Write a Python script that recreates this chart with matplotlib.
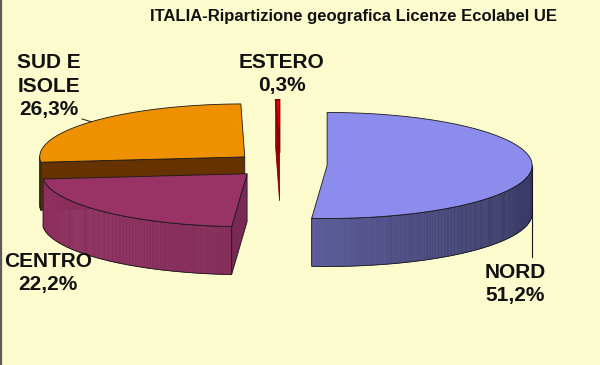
import numpy as np
import matplotlib
matplotlib.use("Agg")
import matplotlib.pyplot as plt
from matplotlib.patches import Polygon
from matplotlib.colors import to_rgb

# ---------------- data ----------------
categories = ["NORD", "CENTRO", "SUD E\nISOLE", "ESTERO"]
values = [51.2, 22.2, 26.3, 0.3]
title = "ITALIA-Ripartizione geografica Licenze Ecolabel UE"

# ---------------- style ----------------
bg = "#FBFBCD"
top_colors = ["#8C8CEC", "#993366", "#EE9000", "#FF0000"]
side_light = ["#7676C4", "#8E2F60", "#B06A00", "#C00000"]
side_dark = ["#3A3A68", "#762650", "#7A4A00", "#700000"]
cut_colors = ["#5A5AA0", "#7A2854", "#663300", "#9A0000"]
edge_colors = ["#1a1a1a", "#1a1a1a", "#1a1a1a", "#8A0000"]

plt.rcParams["font.family"] = ["Liberation Sans", "DejaVu Sans"]

W, H = 600, 365
fig = plt.figure(figsize=(6, 3.65), dpi=100, facecolor=bg)
ax = fig.add_axes([0, 0, 1, 1])
ax.set_facecolor(bg)
ax.set_xlim(0, W)
ax.set_ylim(H, 0)
ax.axis("off")

# pie geometry (pixel layout)
CX, CY = 280, 165
R, r, D = 205, 53, 48
explode = 0.23

total = float(sum(values))
bounds = []
hi = 90.0
for v in values:
    span = 360.0 * v / total
    lo = hi - span
    bounds.append((lo, hi))
    hi = lo


def lerp(c1, c2, t):
    a = np.array(to_rgb(c1))
    b = np.array(to_rgb(c2))
    return tuple(a + (b - a) * t)


centers = []
for (lo, hi) in bounds:
    m = np.radians((lo + hi) / 2)
    centers.append((CX + explode * R * np.cos(m), CY - explode * r * np.sin(m)))


def P(i, th_deg, dz=0.0):
    cx, cy = centers[i]
    t = np.radians(th_deg)
    return (cx + R * np.cos(t), cy - r * np.sin(t) + dz)


order = sorted(range(len(values)),
               key=lambda i: -np.sin(np.radians(sum(bounds[i]) / 2)))

for i in order:
    lo, hi = bounds[i]
    cx, cy = centers[i]
    edge = edge_colors[i]
    # radial cut faces
    for ang, vis in ((lo, np.cos(np.radians(lo)) > 1e-9),
                     (hi, np.cos(np.radians(hi)) < -1e-9)):
        if vis:
            p1 = P(i, ang)
            quad = [(cx, cy), p1, (p1[0], p1[1] + D), (cx, cy + D)]
            ax.add_patch(Polygon(quad, closed=True, facecolor=cut_colors[i],
                                 edgecolor=edge, lw=0.6, zorder=2))
    # outer side
    n = max(2, int(np.ceil((hi - lo) / 0.5)))
    ths = np.linspace(lo, hi, n + 1)
    vis_th = []
    for a, b in zip(ths[:-1], ths[1:]):
        mid = np.radians((a + b) / 2)
        if np.sin(mid) < 0:
            col = lerp(side_light[i], side_dark[i], (np.cos(mid) + 1) / 2)
            pa, pb = P(i, a), P(i, b)
            quad = [pa, pb, (pb[0], pb[1] + D), (pa[0], pa[1] + D)]
            ax.add_patch(Polygon(quad, closed=True, facecolor=col,
                                 edgecolor=col, lw=0.4, zorder=2))
            if not vis_th or vis_th[-1] != a:
                vis_th.append(a)
            vis_th.append(b)
    if vis_th:
        topp = [P(i, t) for t in vis_th]
        botp = [P(i, t, D) for t in vis_th[::-1]]
        ax.add_patch(Polygon(topp + botp, closed=True, facecolor="none",
                             edgecolor=edge, lw=0.6, zorder=2.5))
    # top face
    arc = [P(i, t) for t in np.linspace(lo, hi, max(2, int((hi - lo) / 0.5)) + 1)]
    ax.add_patch(Polygon([(cx, cy)] + arc, closed=True, facecolor=top_colors[i],
                         edgecolor=edge, lw=0.6 if i != 3 else 1.2, zorder=3))


def fmt(v):
    return f"{v:.1f}%".replace(".", ",")


# labels (layout positions in pixels)
label_pos = [(515, 284), (48, 273), (49, 86), (282, 74)]
for i, cat in enumerate(categories):
    x, y = label_pos[i]
    ax.text(x, y, f"{cat}\n{fmt(values[i])}", ha="center", va="center",
            fontsize=15, fontweight="bold", color="#111111",
            linespacing=1.3, zorder=5)

# leader lines
edge = "#1a1a1a"
m_sud = (bounds[2][0] + bounds[2][1]) / 2
a = P(2, m_sud)
ax.plot([82, a[0]], [119, a[1]], color=edge, lw=0.7, zorder=4)
m_nord = (bounds[0][0] + bounds[0][1]) / 2
a = P(0, m_nord)
ax.plot([a[0], a[0]], [a[1], 257], color=edge, lw=0.8, zorder=4)

ax.text(354, 17, title, ha="center", va="center", fontsize=12,
        fontweight="bold", color="#111111")

ax.plot([0.8, 0.8], [0, H], color="#5a5a5a", lw=1.6, zorder=6)

fig.savefig("out.png", dpi=100, facecolor=bg)
